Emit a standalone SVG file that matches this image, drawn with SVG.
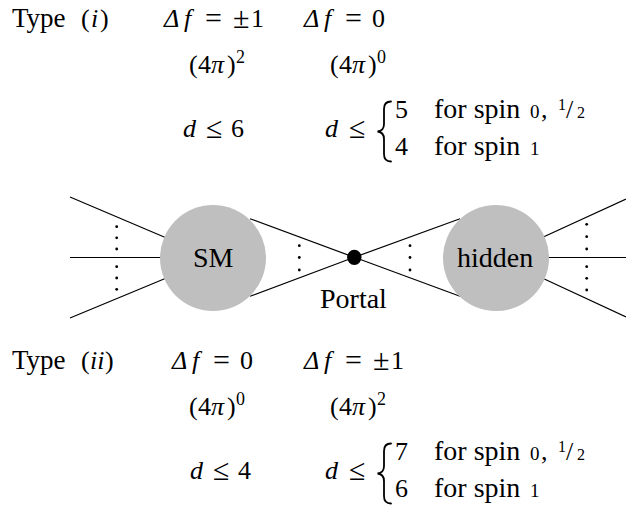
<svg xmlns="http://www.w3.org/2000/svg" width="626" height="514" viewBox="0 0 626 514">
<rect width="626" height="514" fill="#fff"/>

<g id="type-i-labels">
  <text style="font-family:'Liberation Serif'" font-size="27" x="12" y="27">Type</text>
  <text style="font-family:'Liberation Serif'" font-size="26" x="81" y="27">(</text>
  <text style="font-family:'Liberation Serif'" font-size="26" x="91" y="27" font-style="italic">i</text>
  <text style="font-family:'Liberation Serif'" font-size="26" x="100" y="27">)</text>
  <text style="font-family:'Liberation Serif'" font-size="26" x="164" y="27" font-style="italic">Δ</text>
  <text style="font-family:'Liberation Serif'" font-size="26" x="184" y="27" font-style="italic">f</text>
  <text style="font-family:'Liberation Serif'" font-size="30" x="205" y="28">=</text>
  <text style="font-family:'Liberation Serif'" font-size="30" x="233" y="28">±</text>
  <text style="font-family:'Liberation Serif'" font-size="26" x="251" y="27">1</text>
  <text style="font-family:'Liberation Serif'" font-size="26" x="304" y="27" font-style="italic">Δ</text>
  <text style="font-family:'Liberation Serif'" font-size="26" x="324" y="27" font-style="italic">f</text>
  <text style="font-family:'Liberation Serif'" font-size="30" x="345" y="28">=</text>
  <text style="font-family:'Liberation Serif'" font-size="26" x="372" y="27">0</text>

  <text style="font-family:'Liberation Serif'" font-size="26" x="189" y="73">(</text>
  <text style="font-family:'Liberation Serif'" font-size="26" x="198" y="73">4</text>
  <text style="font-family:'Liberation Serif'" font-size="26" x="211" y="73" font-style="italic">π</text>
  <text style="font-family:'Liberation Serif'" font-size="26" x="227" y="73">)</text>
  <text style="font-family:'Liberation Serif'" font-size="18" x="236" y="63">2</text>
  <text style="font-family:'Liberation Serif'" font-size="26" x="330" y="73">(</text>
  <text style="font-family:'Liberation Serif'" font-size="26" x="339" y="73">4</text>
  <text style="font-family:'Liberation Serif'" font-size="26" x="352" y="73" font-style="italic">π</text>
  <text style="font-family:'Liberation Serif'" font-size="26" x="368" y="73">)</text>
  <text style="font-family:'Liberation Serif'" font-size="18" x="377" y="63">0</text>

  <text style="font-family:'Liberation Serif'" font-size="26" x="183" y="137" font-style="italic">d</text>
  <text style="font-family:'Liberation Serif'" font-size="30" x="206" y="138">≤</text>
  <text style="font-family:'Liberation Serif'" font-size="26" x="231" y="137">6</text>
  <text style="font-family:'Liberation Serif'" font-size="26" x="325" y="137" font-style="italic">d</text>
  <text style="font-family:'Liberation Serif'" font-size="30" x="349" y="138">≤</text>
  <path d="M391,101.5 C386,101.5 384,104 384,109 L384,124 C384,128.5 382,131 377.5,131.5 C382,132 384,134.5 384,139 L384,154 C384,159 386,161.5 391,161.5" fill="none" stroke="#000" stroke-width="1.8" stroke-linecap="round"/>
  <text style="font-family:'Liberation Serif'" font-size="26" x="395" y="118">5</text>
  <text style="font-family:'Liberation Serif'" font-size="26" x="395" y="155">4</text>
  <text style="font-family:'Liberation Serif'" font-size="28" x="434" y="118">for spin</text>
  <text style="font-family:'Liberation Serif'" font-size="19" x="530" y="118">0</text>
  <text style="font-family:'Liberation Serif'" font-size="26" x="541" y="118">,</text>
  <text style="font-family:'Liberation Serif'" font-size="16" x="558" y="110">1</text>
  <text style="font-family:'Liberation Serif'" font-size="26" x="566" y="118">/</text>
  <text style="font-family:'Liberation Serif'" font-size="16" x="577" y="118">2</text>
  <text style="font-family:'Liberation Serif'" font-size="28" x="434" y="155">for spin</text>
  <text style="font-family:'Liberation Serif'" font-size="19" x="530" y="155">1</text>
</g>

<g id="connectors" stroke="#000" stroke-width="1.2" fill="none">
  <line x1="70" y1="197" x2="170" y2="239.5"/>
  <line x1="70" y1="257.5" x2="170" y2="257.5"/>
  <line x1="70" y1="318" x2="170" y2="276.5"/>
  <line x1="250" y1="218.7" x2="354.3" y2="257.3"/>
  <line x1="250" y1="296.3" x2="354.3" y2="257.3"/>
  <line x1="354.3" y1="257.3" x2="460" y2="218.7"/>
  <line x1="354.3" y1="257.3" x2="460" y2="296.3"/>
  <line x1="540" y1="238.5" x2="626" y2="199"/>
  <line x1="540" y1="257.5" x2="626" y2="257.5"/>
  <line x1="540" y1="277" x2="626" y2="317"/>
  <g fill="#000" stroke="none">
    <circle cx="116.7" cy="226.7" r="1.4"/><circle cx="116.7" cy="237.8" r="1.4"/><circle cx="116.7" cy="249" r="1.4"/>
    <circle cx="116.7" cy="266.7" r="1.4"/><circle cx="116.7" cy="278" r="1.4"/><circle cx="116.7" cy="289.3" r="1.4"/>
    <circle cx="299.3" cy="245.7" r="1.4"/><circle cx="299.3" cy="257.5" r="1.4"/><circle cx="299.3" cy="270" r="1.4"/>
    <circle cx="410" cy="245.7" r="1.4"/><circle cx="410" cy="257.5" r="1.4"/><circle cx="410" cy="270" r="1.4"/>
    <circle cx="586.7" cy="224.3" r="1.4"/><circle cx="586.7" cy="236.7" r="1.4"/><circle cx="586.7" cy="249" r="1.4"/>
    <circle cx="586.7" cy="266.7" r="1.4"/><circle cx="586.7" cy="278.3" r="1.4"/><circle cx="586.7" cy="290" r="1.4"/>
  </g>
</g>

<g id="node-sm">
  <circle cx="213" cy="258" r="53" fill="#bfbfbf"/>
  <text style="font-family:'Liberation Serif'" font-size="28" x="193" y="267">SM</text>
</g>
<g id="node-portal">
  <ellipse cx="354.3" cy="257.3" rx="7.2" ry="7.6" fill="#000"/>
  <text style="font-family:'Liberation Serif'" font-size="28" x="320" y="308">Portal</text>
</g>
<g id="node-hidden">
  <circle cx="496" cy="258" r="53" fill="#bfbfbf"/>
  <text style="font-family:'Liberation Serif'" font-size="28" x="457" y="266.5">hidden</text>
</g>

<g id="type-ii-labels">
  <text style="font-family:'Liberation Serif'" font-size="27" x="12" y="369">Type</text>
  <text style="font-family:'Liberation Serif'" font-size="26" x="81" y="369">(</text>
  <text style="font-family:'Liberation Serif'" font-size="26" x="90" y="369" font-style="italic">ii</text>
  <text style="font-family:'Liberation Serif'" font-size="26" x="105" y="369">)</text>
  <text style="font-family:'Liberation Serif'" font-size="26" x="172" y="369" font-style="italic">Δ</text>
  <text style="font-family:'Liberation Serif'" font-size="26" x="192" y="369" font-style="italic">f</text>
  <text style="font-family:'Liberation Serif'" font-size="30" x="213" y="370">=</text>
  <text style="font-family:'Liberation Serif'" font-size="26" x="240" y="369">0</text>
  <text style="font-family:'Liberation Serif'" font-size="26" x="304" y="369" font-style="italic">Δ</text>
  <text style="font-family:'Liberation Serif'" font-size="26" x="324" y="369" font-style="italic">f</text>
  <text style="font-family:'Liberation Serif'" font-size="30" x="345" y="370">=</text>
  <text style="font-family:'Liberation Serif'" font-size="30" x="373" y="370">±</text>
  <text style="font-family:'Liberation Serif'" font-size="26" x="391" y="369">1</text>

  <text style="font-family:'Liberation Serif'" font-size="26" x="189" y="415">(</text>
  <text style="font-family:'Liberation Serif'" font-size="26" x="198" y="415">4</text>
  <text style="font-family:'Liberation Serif'" font-size="26" x="211" y="415" font-style="italic">π</text>
  <text style="font-family:'Liberation Serif'" font-size="26" x="227" y="415">)</text>
  <text style="font-family:'Liberation Serif'" font-size="18" x="236" y="405">0</text>
  <text style="font-family:'Liberation Serif'" font-size="26" x="330" y="415">(</text>
  <text style="font-family:'Liberation Serif'" font-size="26" x="339" y="415">4</text>
  <text style="font-family:'Liberation Serif'" font-size="26" x="352" y="415" font-style="italic">π</text>
  <text style="font-family:'Liberation Serif'" font-size="26" x="368" y="415">)</text>
  <text style="font-family:'Liberation Serif'" font-size="18" x="377" y="405">2</text>

  <text style="font-family:'Liberation Serif'" font-size="26" x="190" y="479" font-style="italic">d</text>
  <text style="font-family:'Liberation Serif'" font-size="30" x="213" y="480">≤</text>
  <text style="font-family:'Liberation Serif'" font-size="26" x="238" y="479">4</text>
  <text style="font-family:'Liberation Serif'" font-size="26" x="325" y="479" font-style="italic">d</text>
  <text style="font-family:'Liberation Serif'" font-size="30" x="349" y="480">≤</text>
  <path d="M391,443.5 C386,443.5 384,446 384,451 L384,466 C384,470.5 382,473 377.5,473.5 C382,474 384,476.5 384,481 L384,496 C384,501 386,503.5 391,503.5" fill="none" stroke="#000" stroke-width="1.8" stroke-linecap="round"/>
  <text style="font-family:'Liberation Serif'" font-size="26" x="395" y="460">7</text>
  <text style="font-family:'Liberation Serif'" font-size="26" x="395" y="497">6</text>
  <text style="font-family:'Liberation Serif'" font-size="28" x="434" y="460">for spin</text>
  <text style="font-family:'Liberation Serif'" font-size="19" x="530" y="460">0</text>
  <text style="font-family:'Liberation Serif'" font-size="26" x="541" y="460">,</text>
  <text style="font-family:'Liberation Serif'" font-size="16" x="558" y="452">1</text>
  <text style="font-family:'Liberation Serif'" font-size="26" x="566" y="460">/</text>
  <text style="font-family:'Liberation Serif'" font-size="16" x="577" y="460">2</text>
  <text style="font-family:'Liberation Serif'" font-size="28" x="434" y="497">for spin</text>
  <text style="font-family:'Liberation Serif'" font-size="19" x="530" y="497">1</text>
</g>
</svg>
